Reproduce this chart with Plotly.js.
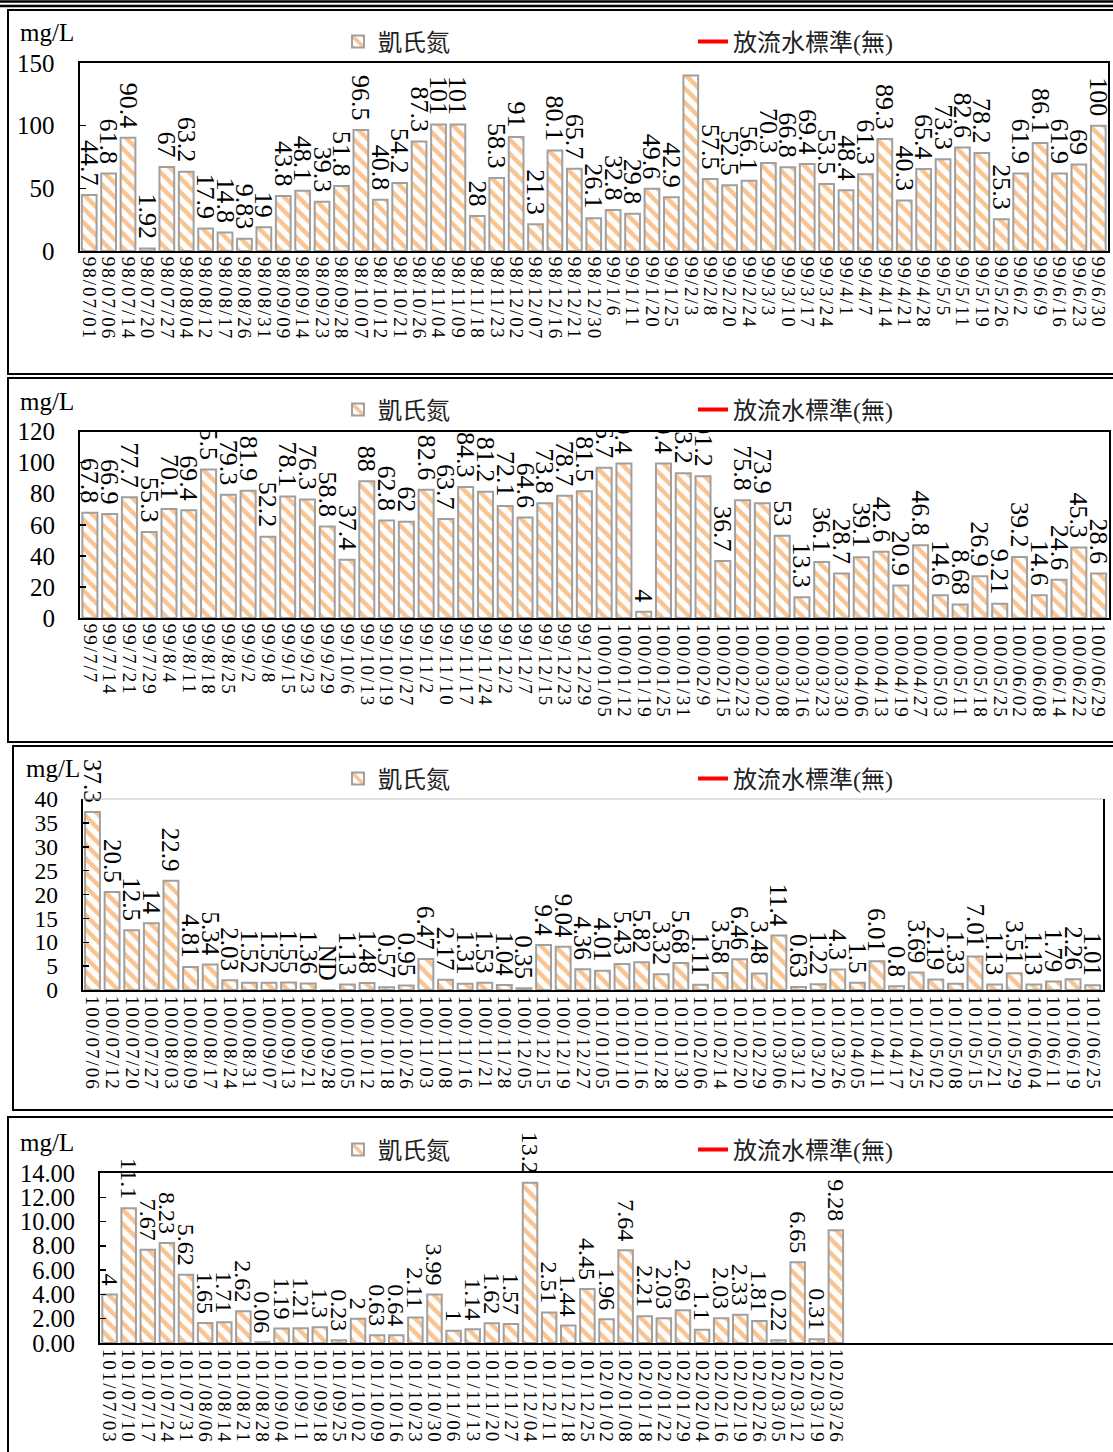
<!DOCTYPE html>
<html><head><meta charset="utf-8">
<script src="https://cdn.plot.ly/plotly-3.0.1.min.js"></script>
<style>
html,body{margin:0;padding:0;background:#fff}
#chart{width:1113px;height:1452px}
#chart .xtick text, #chart .x2tick text, #chart .x3tick text, #chart .x4tick text{letter-spacing:2px}
</style>
</head><body><div id="chart"></div>
<script>
// ---------------- data ----------------
const seriesName = '凱氏氮';
const standardName = '放流水標準(無)';
const yUnit = 'mg/L';
const standardValues = [null]; // no discharge standard

const dates1 = ['98/07/01','98/07/06','98/07/14','98/07/20','98/07/27','98/08/04','98/08/12','98/08/17','98/08/26','98/08/31','98/09/09','98/09/14','98/09/23','98/09/28','98/10/07','98/10/12','98/10/21','98/10/26','98/11/04','98/11/09','98/11/18','98/11/23','98/12/02','98/12/07','98/12/16','98/12/21','98/12/30','99/1/6','99/1/11','99/1/20','99/1/25','99/2/3','99/2/8','99/2/20','99/2/24','99/3/3','99/3/10','99/3/17','99/3/24','99/4/1','99/4/7','99/4/14','99/4/21','99/4/28','99/5/5','99/5/11','99/5/19','99/5/26','99/6/2','99/6/9','99/6/16','99/6/23','99/6/30'];
const kjn1 = [44.7,61.8,90.4,1.92,67,63.2,17.9,14.8,9.83,19,43.8,48.1,39.3,51.8,96.5,40.8,54.2,87.3,101,101,28,58.3,91,21.3,80.1,65.7,26.1,32.8,29.8,49.6,42.9,140,57.5,52.5,56.1,70.3,66.8,69.4,53.5,48.4,61.3,89.3,40.3,65.4,73.3,82.6,78.2,25.3,61.9,86.1,61.9,69,100];
const hiddenLabels1 = ['99/2/3'];

const dates2 = ['99/7/7','99/7/14','99/7/21','99/7/29','99/8/4','99/8/11','99/8/18','99/8/25','99/9/2','99/9/8','99/9/15','99/9/23','99/9/29','99/10/6','99/10/13','99/10/19','99/10/27','99/11/2','99/11/10','99/11/17','99/11/24','99/12/2','99/12/7','99/12/15','99/12/23','99/12/29','100/01/05','100/01/12','100/01/19','100/01/25','100/01/31','100/02/9','100/02/15','100/02/23','100/03/02','100/03/08','100/03/16','100/03/23','100/03/30','100/04/06','100/04/13','100/04/19','100/04/27','100/05/03','100/05/11','100/05/18','100/05/25','100/06/02','100/06/08','100/06/14','100/06/22','100/06/29'];
const kjn2 = [67.8,66.9,77.7,55.3,70.1,69.4,95.5,79.3,81.9,52.2,78.1,76.3,58.8,37.4,88,62.8,62,82.6,63.7,84.3,81.2,72.1,64.6,73.8,78.7,81.5,96.7,99.4,4,99.4,93.2,91.2,36.7,75.8,73.9,53,13.3,36.1,28.7,39.1,42.6,20.9,46.8,14.6,8.68,26.9,9.21,39.2,14.6,24.6,45.3,28.6];

const dates3 = ['100/07/06','100/07/12','100/07/20','100/07/27','100/08/03','100/08/09','100/08/17','100/08/24','100/08/31','100/09/07','100/09/13','100/09/21','100/09/28','100/10/05','100/10/12','100/10/18','100/10/26','100/11/03','100/11/08','100/11/16','100/11/21','100/11/28','100/12/05','100/12/15','100/12/19','100/12/27','101/01/05','101/01/10','101/01/16','101/01/28','101/01/30','101/02/06','101/02/14','101/02/20','101/02/29','101/03/06','101/03/12','101/03/20','101/03/26','101/04/05','101/04/11','101/04/17','101/04/25','101/05/02','101/05/08','101/05/15','101/05/21','101/05/29','101/06/04','101/06/11','101/06/19','101/06/25'];
const kjn3 = [37.3,20.5,12.5,14,22.9,4.81,5.34,2.03,1.52,1.52,1.55,1.36,0,1.13,1.48,0.57,0.95,6.47,2.17,1.31,1.53,1.04,0.35,9.4,9.04,4.36,4.01,5.43,5.82,3.32,5.68,1.11,3.58,6.46,3.48,11.4,0.63,1.22,4.3,1.5,6.01,0.8,3.69,2.19,1.33,7.01,1.13,3.51,1.13,1.79,2.26,1.01];
const ndDates3 = ['100/09/28'];

const dates4 = ['101/07/03','101/07/10','101/07/17','101/07/24','101/07/31','101/08/06','101/08/14','101/08/21','101/08/28','101/09/04','101/09/11','101/09/18','101/09/25','101/10/02','101/10/09','101/10/16','101/10/23','101/10/30','101/11/06','101/11/13','101/11/20','101/11/27','101/12/04','101/12/11','101/12/18','101/12/25','102/01/02','102/01/08','102/01/18','102/01/22','102/01/29','102/02/04','102/02/16','102/02/19','102/02/26','102/03/05','102/03/12','102/03/19','102/03/26'];
const kjn4 = [4,11.1,7.67,8.23,5.62,1.65,1.71,2.62,0.06,1.19,1.21,1.3,0.23,2,0.63,0.64,2.11,3.99,1,1.14,1.62,1.57,13.2,2.51,1.44,4.45,1.96,7.64,2.21,2.03,2.69,1.1,2.03,2.33,1.81,0.22,6.65,0.31,9.28];

// ---------------- layout helpers ----------------
const W = 1113, H = 1452;
const fx = p => p / W;
const fy = p => 1 - p / H;
const FONT = "'Liberation Serif', 'Noto Sans CJK TC', serif";
const GAP = '\u00a0'; // small spacer between a bar and its rotated value label

function makeLabels(dates, vals, hidden, nd) {
  return vals.map((v, i) => {
    if (hidden && hidden.includes(dates[i])) return '';
    if (nd && nd.includes(dates[i])) return 'ND' + GAP;
    return String(v) + GAP;
  });
}

const panels = [
  {dates: dates1, vals: kjn1, text: makeLabels(dates1, kjn1, hiddenLabels1, null),
   l: 79.5, r: 1108, t: 63, b: 251, yr: [0, 150], dtick: 50, fmt: '', clip: true, yfs: 25, tfs: 26,
   xmirror: true, ymirror: true, unitX: 18, unitY: 33, legY: 42, box: [8, 10, 1140, 374]},
  {dates: dates2, vals: kjn2, text: makeLabels(dates2, kjn2, null, null),
   l: 80, r: 1108.5, t: 431.5, b: 618, yr: [0, 120], dtick: 20, fmt: '', clip: true, yfs: 25, tfs: 26,
   xmirror: true, ymirror: true, unitX: 18, unitY: 401, legY: 410, box: [8, 378, 1140, 742]},
  {dates: dates3, vals: kjn3, text: makeLabels(dates3, kjn3, null, ndDates3),
   l: 82.7, r: 1102.5, t: 799, b: 990, yr: [0, 40], dtick: 5, fmt: '', clip: false, yfs: 23.5, tfs: 25,
   xmirror: false, ymirror: true, unitX: 24, unitY: 768, legY: 779, box: [13, 746, 1140, 1110]},
  {dates: dates4, vals: kjn4, text: makeLabels(dates4, kjn4, null, null),
   l: 100, r: 1113, t: 1173, b: 1343, yr: [0, 14], dtick: 2, fmt: '.2f', clip: false, yfs: 24.5, tfs: 24, xrange: [-0.5, 52.5],
   xmirror: true, ymirror: false, unitX: 18, unitY: 1142, legY: 1150, box: [8, 1117, 1140, 1480]}
];

const data = [];
const layout = {
  width: W, height: H, margin: {l: 0, r: 0, t: 0, b: 0},
  paper_bgcolor: '#fff', plot_bgcolor: 'rgba(0,0,0,0)',
  font: {family: FONT, color: '#000', size: 24},
  bargap: 0.24, showlegend: true,
  shapes: [], annotations: []
};

// double rule at the top of the page
[1.5, 6].forEach(yy => layout.shapes.push({type: 'line', xref: 'paper', yref: 'paper',
  x0: 0, x1: 1, y0: fy(yy), y1: fy(yy), line: {color: '#000', width: 2.5}}));

panels.forEach((p, i) => {
  const n = i + 1;
  const xs = n === 1 ? '' : String(n);
  const xa = 'x' + xs, ya = 'y' + xs;
  const legBar = 'legend' + (i === 0 ? '' : String(2 * i + 1));
  const legLine = 'legend' + String(2 * i + 2);

  data.push({
    type: 'bar', x: p.dates, y: p.vals, name: seriesName, xaxis: xa, yaxis: ya, legend: legBar,
    text: p.text, textposition: 'outside', textangle: 90, constraintext: 'none', cliponaxis: p.clip,
    textfont: {family: FONT, size: p.tfs, color: '#000'},
    marker: {color: '#fff', line: {color: '#A0A0A0', width: 2},
      pattern: {shape: '\\', fgcolor: '#FBC38F', bgcolor: '#fff', size: 10, solidity: 0.45, fillmode: 'replace'}},
    hoverinfo: 'skip'
  });
  data.push({
    type: 'scatter', mode: 'lines', x: [p.dates[0]], y: standardValues, name: standardName,
    xaxis: xa, yaxis: ya, legend: legLine, showlegend: true,
    line: {color: '#FF0000', width: 4}, hoverinfo: 'skip'
  });

  const xaxis = {
    type: 'category', domain: [fx(p.l), fx(p.r)], anchor: ya,
    tickmode: 'array', tickvals: p.dates, ticktext: p.dates,
    showline: true, linecolor: '#000', linewidth: 2, mirror: p.xmirror,
    ticks: '', tickangle: 90, tickfont: {family: FONT, size: 19, color: '#000'},
    showgrid: false, zeroline: false, automargin: false, fixedrange: true
  };
  if (p.xrange) xaxis.range = p.xrange;
  const yaxis = {
    domain: [fy(p.b), fy(p.t)], anchor: xa, range: p.yr, dtick: p.dtick, tick0: 0,
    showline: true, linecolor: '#000', linewidth: 2, mirror: p.ymirror,
    ticks: 'inside', ticklen: 6, tickwidth: 1.5, tickcolor: '#000',
    tickfont: {family: FONT, size: p.yfs, color: '#000'}, ticklabelstandoff: 18,
    showgrid: false, zeroline: false, automargin: false, fixedrange: true
  };
  if (p.fmt) yaxis.tickformat = p.fmt;
  layout['xaxis' + xs] = xaxis;
  layout['yaxis' + xs] = yaxis;

  const legCommon = {orientation: 'h', xanchor: 'left', yanchor: 'middle', y: fy(p.legY),
    bgcolor: 'rgba(0,0,0,0)', borderwidth: 0, itemclick: false, itemdoubleclick: false,
    font: {family: FONT, size: 24, color: '#222'}};
  layout[legBar] = Object.assign({}, legCommon, {x: fx(338)});
  layout[legLine] = Object.assign({}, legCommon, {x: fx(693)});

  // panel frame
  layout.shapes.push({type: 'rect', xref: 'paper', yref: 'paper', layer: 'below',
    x0: fx(p.box[0]), x1: fx(p.box[2]), y0: fy(p.box[1]), y1: fy(p.box[3]),
    line: {color: '#000', width: 2}, fillcolor: 'rgba(0,0,0,0)'});
  if (!p.xmirror) {
    layout.shapes.push({type: 'line', xref: 'paper', yref: 'paper',
      x0: fx(p.l), x1: fx(p.r), y0: fy(p.t), y1: fy(p.t), line: {color: '#C0C0C0', width: 1}});
  }
  layout.annotations.push({xref: 'paper', yref: 'paper', x: fx(p.unitX), y: fy(p.unitY),
    xanchor: 'left', yanchor: 'middle', showarrow: false, text: yUnit,
    font: {family: FONT, size: 25, color: '#000'}});
});

Plotly.newPlot('chart', data, layout, {displayModeBar: false, staticPlot: true});
</script>
</body></html>
